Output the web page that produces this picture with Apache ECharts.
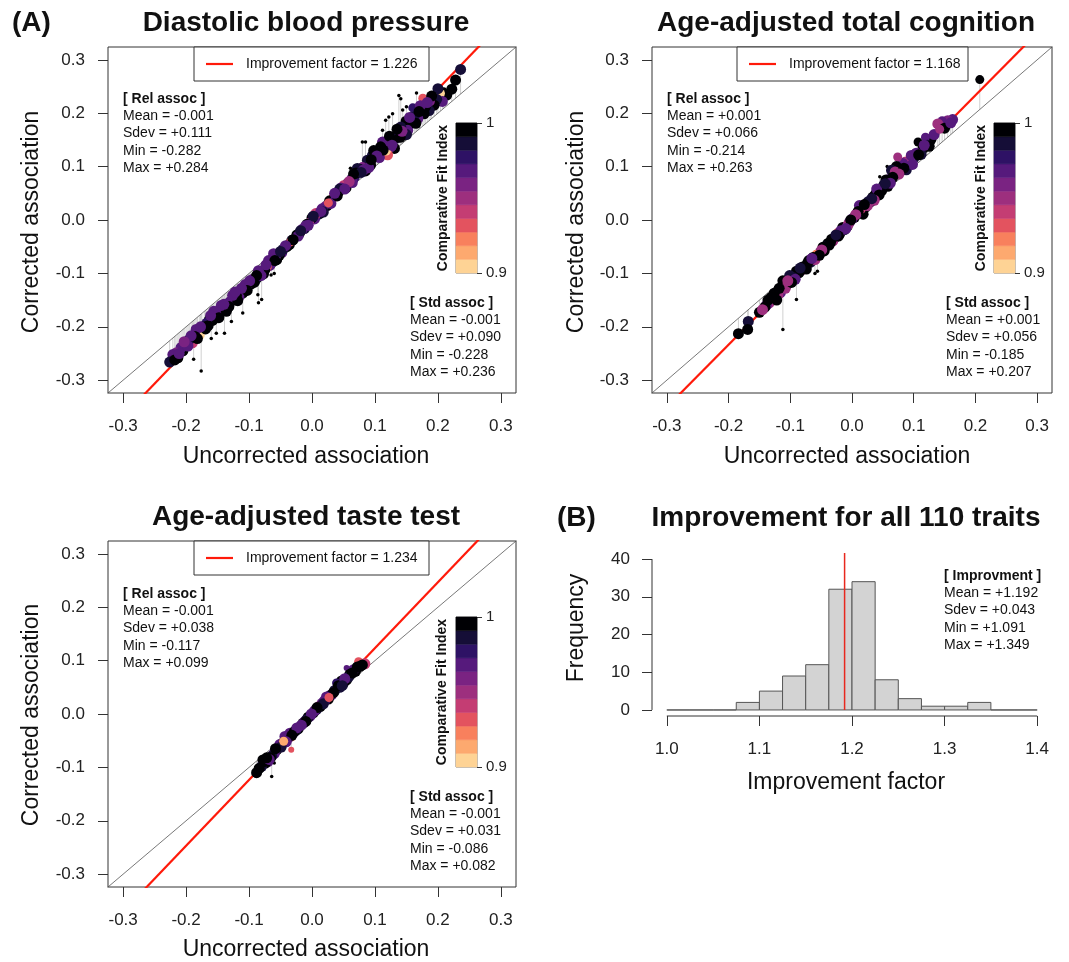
<!DOCTYPE html>
<html>
<head>
<meta charset="utf-8">
<title>Improvement factor</title>
<script src="https://cdn.jsdelivr.net/npm/echarts@6/dist/echarts.min.js"></script>
<style>
  html, body { margin: 0; padding: 0; background: #fff; }
  #chart { width: 1069px; height: 962px; }
</style>
</head>
<body>
<div id="chart"></div>
<script>
// --- data ---
const assocTicks = [-0.3, -0.2, -0.1, 0, 0.1, 0.2, 0.3];
const histXTicks = [1.0, 1.1, 1.2, 1.3, 1.4];
const histYTicks = [0, 10, 20, 30, 40];

const panelTitles = ['Diastolic blood pressure', 'Age-adjusted total cognition', 'Age-adjusted taste test'];
const improvementFactors = [1.226, 1.168, 1.234];
const relStats = [[-0.001, 0.111, -0.282, 0.284], [0.001, 0.066, -0.214, 0.263], [-0.001, 0.038, -0.117, 0.099]];
const stdStats = [[-0.001, 0.090, -0.228, 0.236], [0.001, 0.056, -0.185, 0.207], [-0.001, 0.031, -0.086, 0.082]];
const histStats = [1.192, 0.043, 1.091, 1.349];

// colour key, CFI 0.9 (bottom) -> 1 (top)
const cfiPalette = ['#FED395', '#FDA96F', '#F8805D', '#E3535F', '#C43D73', '#9D2F7E',
                    '#7A2382', '#561A7C', '#2E1265', '#150E37', '#000004'];

// [uncorrected, corrected, CFI, weight]
const dbpPoints = [
  [0.236, 0.282, 0.99, 3], [0.228, 0.262, 0.998, 3], [0.222, 0.245, 0.998, 3], [0.214, 0.234, 0.998, 3],
  [0.209, 0.240, 0.998, 2], [0.204, 0.237, 0.905, 2], [0.207, 0.222, 0.97, 3], [0.198, 0.226, 0.99, 3],
  [0.194, 0.215, 0.998, 3], [0.188, 0.222, 0.96, 2], [0.186, 0.205, 0.99, 3], [0.180, 0.212, 0.998, 3],
  [0.178, 0.199, 0.998, 3], [0.176, 0.228, 0.93, 2], [0.168, 0.190, 0.97, 3], [0.163, 0.196, 0.99, 3],
  [0.160, 0.210, 0.98, 2], [0.157, 0.181, 0.998, 3], [0.152, 0.168, 0.97, 3], [0.148, 0.186, 0.998, 2],
  [0.146, 0.159, 0.998, 3], [0.141, 0.174, 0.99, 3], [0.137, 0.163, 0.97, 2], [0.133, 0.153, 0.98, 3],
  [0.131, 0.134, 0.998, 3], [0.128, 0.149, 0.998, 3], [0.125, 0.137, 0.97, 3], [0.120, 0.122, 0.93, 3],
  [0.118, 0.129, 0.905, 2], [0.115, 0.141, 0.95, 2], [0.112, 0.146, 0.97, 3], [0.109, 0.137, 0.998, 3],
  [0.104, 0.128, 0.99, 2], [0.101, 0.118, 0.93, 2], [0.096, 0.121, 0.99, 3], [0.093, 0.103, 0.998, 3],
  [0.088, 0.112, 0.99, 3], [0.085, 0.092, 0.998, 3], [0.080, 0.100, 0.96, 2], [0.076, 0.095, 0.998, 3],
  [0.072, 0.0965, 0.99, 3], [0.067, 0.080, 0.98, 3], [0.062, 0.078, 0.97, 2], [0.057, 0.069, 0.99, 3],
  [0.054, 0.060, 0.998, 3], [0.050, 0.066, 0.94, 2], [0.046, 0.060, 0.97, 3], [0.042, 0.052, 0.998, 3],
  [0.038, 0.047, 0.99, 3], [0.034, 0.044, 0.93, 2], [0.032, 0.037, 0.92, 2], [0.028, 0.036, 0.998, 3],
  [0.024, 0.027, 0.998, 3], [0.020, 0.026, 0.96, 2], [0.016, 0.021, 0.97, 3], [0.012, 0.012, 0.998, 3],
  [0.008, 0.009, 0.99, 3], [0.004, 0.002, 0.97, 3], [0.000, 0.004, 0.998, 3], [-0.004, -0.004, 0.95, 2],
  [-0.008, -0.008, 0.998, 3], [-0.012, -0.016, 0.99, 3], [-0.016, -0.018, 0.97, 3], [-0.020, -0.025, 0.998, 3],
  [-0.024, -0.028, 0.998, 3], [-0.028, -0.035, 0.97, 2], [-0.032, -0.038, 0.99, 3], [-0.036, -0.046, 0.998, 3],
  [-0.040, -0.050, 0.998, 3], [-0.044, -0.052, 0.96, 2], [-0.048, -0.061, 0.97, 3], [-0.052, -0.066, 0.998, 3],
  [-0.056, -0.074, 0.998, 3], [-0.061, -0.063, 0.97, 3], [-0.064, -0.080, 0.99, 3], [-0.067, -0.085, 0.97, 3],
  [-0.071, -0.088, 0.93, 2], [-0.075, -0.093, 0.998, 3], [-0.079, -0.098, 0.98, 3], [-0.083, -0.100, 0.99, 3],
  [-0.087, -0.108, 0.998, 3], [-0.090, -0.113, 0.99, 3], [-0.094, -0.111, 0.97, 3], [-0.097, -0.120, 0.998, 3],
  [-0.101, -0.122, 0.96, 2], [-0.104, -0.127, 0.97, 3], [-0.108, -0.133, 0.998, 3], [-0.110, -0.137, 0.998, 3],
  [-0.114, -0.134, 0.98, 3], [-0.116, -0.144, 0.97, 3], [-0.120, -0.142, 0.998, 3], [-0.124, -0.150, 0.998, 3],
  [-0.127, -0.146, 0.95, 2], [-0.130, -0.153, 0.97, 3], [-0.134, -0.157, 0.97, 3], [-0.138, -0.162, 0.998, 3],
  [-0.142, -0.168, 0.998, 3], [-0.146, -0.167, 0.97, 3], [-0.150, -0.176, 0.97, 3], [-0.154, -0.180, 0.99, 3],
  [-0.158, -0.188, 0.998, 3], [-0.163, -0.187, 0.998, 3], [-0.167, -0.193, 0.98, 3], [-0.171, -0.199, 0.99, 3],
  [-0.175, -0.206, 0.97, 2], [-0.179, -0.215, 0.905, 3], [-0.184, -0.205, 0.97, 3], [-0.186, -0.218, 0.998, 3],
  [-0.190, -0.230, 0.94, 3], [-0.195, -0.224, 0.99, 3], [-0.200, -0.233, 0.97, 3], [-0.205, -0.245, 0.998, 3],
  [-0.208, -0.239, 0.97, 3], [-0.213, -0.258, 0.998, 3], [-0.216, -0.247, 0.96, 2], [-0.221, -0.252, 0.97, 3],
  [-0.226, -0.266, 0.99, 3],
  [0.200, 0.246, 0.99, 3], [0.190, 0.232, 0.998, 3], [0.172, 0.214, 0.97, 3], [0.165, 0.181, 0.998, 3],
  [0.150, 0.160, 0.99, 3], [0.140, 0.155, 0.998, 3], [0.123, 0.157, 0.998, 3], [0.107, 0.117, 0.97, 3],
  [0.098, 0.130, 0.998, 3], [0.090, 0.098, 0.97, 3], [0.070, 0.088, 0.998, 3], [0.064, 0.070, 0.97, 3],
  [0.044, 0.058, 0.99, 3], [0.030, 0.031, 0.97, 3], [0.018, 0.015, 0.99, 3], [0.006, 0.012, 0.94, 3],
  [-0.010, -0.011, 0.97, 3], [-0.022, -0.030, 0.97, 3], [-0.034, -0.041, 0.93, 2], [-0.046, -0.055, 0.99, 3],
  [-0.058, -0.068, 0.97, 3], [-0.069, -0.076, 0.97, 3], [-0.077, -0.101, 0.998, 3], [-0.085, -0.095, 0.97, 3],
  [-0.092, -0.117, 0.998, 3], [-0.106, -0.121, 0.97, 3], [-0.118, -0.151, 0.998, 3], [-0.126, -0.141, 0.97, 3],
  [-0.136, -0.171, 0.998, 3], [-0.144, -0.160, 0.97, 3], [-0.156, -0.171, 0.97, 3], [-0.165, -0.198, 0.998, 3],
  [-0.182, -0.222, 0.998, 3], [-0.197, -0.236, 0.97, 3], [-0.218, -0.262, 0.998, 3],
  [0.183, 0.220, 0.97, 3], [0.170, 0.203, 0.998, 3], [0.155, 0.192, 0.97, 3], [0.143, 0.166, 0.96, 3],
  [0.135, 0.170, 0.998, 3], [0.127, 0.140, 0.97, 3], [0.113, 0.131, 0.998, 3], [0.103, 0.120, 0.97, 3],
  [0.094, 0.113, 0.998, 3], [0.082, 0.094, 0.97, 3], [0.078, 0.089, 0.99, 3], [0.066, 0.086, 0.998, 3],
  [0.059, 0.072, 0.95, 3], [0.052, 0.058, 0.97, 3], [0.040, 0.045, 0.998, 3], [0.036, 0.050, 0.97, 3],
  [0.026, 0.032, 0.93, 2], [0.014, 0.016, 0.97, 3], [0.002, 0.007, 0.99, 3], [-0.006, -0.010, 0.97, 3],
  [-0.018, -0.020, 0.99, 3], [-0.030, -0.037, 0.998, 3], [-0.042, -0.048, 0.97, 3], [-0.050, -0.059, 0.99, 3],
  [-0.059, -0.076, 0.998, 3], [-0.073, -0.084, 0.97, 3], [-0.081, -0.104, 0.97, 3], [-0.088, -0.104, 0.998, 3],
  [-0.099, -0.114, 0.97, 3], [-0.103, -0.132, 0.998, 3], [-0.112, -0.128, 0.97, 3], [-0.122, -0.135, 0.97, 3],
  [-0.132, -0.162, 0.998, 3], [-0.140, -0.158, 0.97, 3], [-0.148, -0.183, 0.998, 3], [-0.161, -0.179, 0.97, 3],
  [-0.169, -0.204, 0.998, 3], [-0.177, -0.200, 0.97, 3], [-0.192, -0.217, 0.97, 3], [-0.203, -0.228, 0.96, 3],
  [-0.211, -0.250, 0.97, 3]
];
// small markers [uncorrected, corrected]
const dbpDots = [
  [-0.176, -0.283], [-0.188, -0.261], [-0.152, -0.212], [-0.160, -0.222], [-0.139, -0.212], [-0.128, -0.190],
  [-0.110, -0.174], [-0.085, -0.155], [-0.080, -0.149], [-0.086, -0.140], [-0.065, -0.103], [-0.060, -0.100],
  [0.061, 0.097], [0.085, 0.146], [0.080, 0.146], [0.112, 0.168], [0.117, 0.187], [0.122, 0.193],
  [0.128, 0.199], [0.138, 0.233], [0.141, 0.227], [0.144, 0.206], [0.150, 0.212], [0.166, 0.238]
];

const cogPoints = [
  [0.207, 0.263, 0.998, 2], [0.163, 0.188, 0.97, 3], [0.155, 0.186, 0.96, 3], [0.146, 0.186, 0.97, 2],
  [0.139, 0.180, 0.95, 3], [0.128, 0.151, 0.998, 3], [0.119, 0.155, 0.97, 2], [0.107, 0.146, 0.998, 2],
  [0.115, 0.134, 0.998, 3], [0.112, 0.123, 0.99, 3], [0.104, 0.125, 0.97, 3], [0.100, 0.116, 0.99, 3],
  [0.093, 0.113, 0.905, 3], [0.090, 0.104, 0.998, 3], [0.086, 0.110, 0.95, 2], [0.082, 0.106, 0.97, 3],
  [0.078, 0.095, 0.998, 3], [0.074, 0.118, 0.95, 2], [0.072, 0.100, 0.998, 3], [0.068, 0.087, 0.99, 3],
  [0.064, 0.093, 0.99, 3], [0.060, 0.076, 0.97, 3], [0.055, 0.075, 0.998, 3], [0.052, 0.066, 0.99, 3],
  [0.050, 0.062, 0.99, 3], [0.046, 0.058, 0.94, 2], [0.042, 0.052, 0.97, 3], [0.038, 0.048, 0.998, 3],
  [0.034, 0.043, 0.998, 3], [0.030, 0.034, 0.99, 3], [0.026, 0.034, 0.99, 3], [0.022, 0.024, 0.998, 3],
  [0.018, 0.011, 0.998, 3], [0.015, 0.020, 0.94, 2], [0.012, 0.027, 0.97, 3], [0.008, 0.012, 0.99, 3],
  [0.004, 0.005, 0.998, 3], [0.000, 0.002, 0.97, 3], [-0.004, -0.004, 0.97, 3], [-0.008, -0.012, 0.998, 3],
  [-0.012, -0.018, 0.99, 3], [-0.015, -0.014, 0.998, 3], [-0.020, -0.026, 0.998, 3], [-0.024, -0.024, 0.93, 2],
  [-0.028, -0.033, 0.99, 3], [-0.031, -0.039, 0.95, 3], [-0.035, -0.042, 0.998, 3], [-0.039, -0.044, 0.998, 3],
  [-0.043, -0.050, 0.99, 3], [-0.047, -0.051, 0.998, 3], [-0.051, -0.060, 0.97, 3], [-0.055, -0.065, 0.998, 3],
  [-0.058, -0.064, 0.92, 2], [-0.063, -0.070, 0.998, 3], [-0.067, -0.079, 0.99, 3], [-0.072, -0.081, 0.998, 3],
  [-0.076, -0.090, 0.97, 3], [-0.082, -0.094, 0.95, 3], [-0.086, -0.099, 0.998, 3], [-0.090, -0.096, 0.998, 3],
  [-0.095, -0.108, 0.99, 3], [-0.101, -0.104, 0.99, 3], [-0.101, -0.116, 0.99, 3], [-0.106, -0.122, 0.998, 3],
  [-0.112, -0.114, 0.998, 3], [-0.112, -0.126, 0.998, 3], [-0.116, -0.136, 0.97, 3], [-0.120, -0.140, 0.95, 3],
  [-0.126, -0.137, 0.998, 3], [-0.128, -0.148, 0.998, 3], [-0.134, -0.155, 0.95, 3], [-0.139, -0.160, 0.97, 3],
  [-0.141, -0.163, 0.998, 3], [-0.150, -0.173, 0.998, 3], [-0.168, -0.190, 0.99, 3], [-0.169, -0.205, 0.998, 3],
  [-0.184, -0.213, 0.998, 3],
  [0.150, 0.172, 0.998, 3], [0.133, 0.160, 0.97, 3], [0.122, 0.140, 0.99, 3], [0.096, 0.121, 0.97, 3],
  [0.088, 0.094, 0.99, 3], [0.070, 0.090, 0.95, 3], [0.058, 0.063, 0.998, 3], [0.048, 0.055, 0.998, 3],
  [0.040, 0.058, 0.97, 3], [0.025, 0.027, 0.95, 3], [0.010, 0.016, 0.998, 3], [-0.006, -0.008, 0.95, 3],
  [-0.018, -0.020, 0.97, 3], [-0.033, -0.036, 0.998, 3], [-0.045, -0.058, 0.998, 3], [-0.060, -0.074, 0.95, 3],
  [-0.070, -0.076, 0.998, 3], [-0.080, -0.088, 0.998, 3], [-0.092, -0.111, 0.97, 3], [-0.108, -0.128, 0.95, 3],
  [-0.122, -0.150, 0.998, 3], [-0.131, -0.145, 0.998, 3], [-0.145, -0.168, 0.95, 3],
  [0.160, 0.182, 0.97, 3], [0.142, 0.170, 0.95, 2], [0.125, 0.138, 0.998, 3], [0.117, 0.140, 0.97, 3],
  [0.108, 0.122, 0.998, 3], [0.098, 0.104, 0.97, 3], [0.084, 0.097, 0.998, 3], [0.076, 0.086, 0.95, 3],
  [0.066, 0.080, 0.998, 3], [0.062, 0.069, 0.97, 3], [0.054, 0.068, 0.99, 3], [0.044, 0.047, 0.998, 3],
  [0.036, 0.037, 0.95, 3], [0.032, 0.040, 0.99, 3], [0.020, 0.029, 0.998, 3], [0.006, 0.010, 0.95, 3],
  [-0.002, 0.000, 0.998, 3], [-0.010, -0.016, 0.97, 3], [-0.022, -0.030, 0.998, 3], [-0.026, -0.028, 0.99, 3],
  [-0.037, -0.047, 0.998, 3], [-0.049, -0.056, 0.95, 3], [-0.053, -0.066, 0.998, 3], [-0.065, -0.072, 0.97, 3],
  [-0.074, -0.092, 0.998, 3], [-0.084, -0.090, 0.99, 3], [-0.098, -0.117, 0.998, 3], [-0.104, -0.114, 0.95, 3],
  [-0.118, -0.128, 0.998, 3], [-0.136, -0.150, 0.998, 3]
];
const cogDots = [
  [-0.112, -0.205], [-0.090, -0.149], [-0.060, -0.100], [-0.056, -0.096], [0.045, 0.081], [0.057, 0.100]
];

const tastePoints = [
  [0.084, 0.094, 0.94, 3], [0.074, 0.098, 0.93, 2], [0.076, 0.089, 0.998, 3], [0.069, 0.080, 0.998, 3],
  [0.066, 0.083, 0.97, 3], [0.055, 0.086, 0.97, 1], [0.060, 0.074, 0.998, 3], [0.055, 0.064, 0.998, 3],
  [0.050, 0.058, 0.998, 3], [0.047, 0.062, 0.998, 3], [0.044, 0.050, 0.99, 3], [0.039, 0.058, 0.98, 2],
  [0.036, 0.044, 0.99, 3], [0.031, 0.036, 0.97, 3], [0.026, 0.028, 0.998, 3], [0.020, 0.025, 0.97, 3],
  [0.016, 0.020, 0.97, 3], [0.013, 0.014, 0.998, 3], [0.010, 0.015, 0.95, 2], [0.007, 0.008, 0.99, 3],
  [0.002, 0.002, 0.998, 3], [-0.003, -0.004, 0.97, 3], [-0.006, -0.006, 0.998, 3], [-0.009, -0.011, 0.99, 3],
  [-0.014, -0.017, 0.998, 3], [-0.019, -0.024, 0.94, 2], [-0.022, -0.028, 0.998, 3], [-0.025, -0.030, 0.99, 3],
  [-0.030, -0.036, 0.97, 3], [-0.033, -0.043, 0.92, 2], [-0.033, -0.067, 0.93, 1], [-0.035, -0.036, 0.97, 3],
  [-0.040, -0.048, 0.905, 2], [-0.043, -0.042, 0.97, 3], [-0.047, -0.055, 0.998, 3], [-0.051, -0.057, 0.97, 3],
  [-0.056, -0.067, 0.998, 3], [-0.060, -0.074, 0.97, 3], [-0.064, -0.079, 0.99, 3], [-0.070, -0.089, 0.97, 3],
  [-0.074, -0.092, 0.998, 3], [-0.078, -0.086, 0.998, 3], [-0.080, -0.098, 0.99, 3], [-0.088, -0.110, 0.998, 3],
  [0.072, 0.088, 0.998, 3], [0.058, 0.069, 0.99, 3], [0.042, 0.053, 0.998, 3], [0.028, 0.034, 0.99, 3],
  [0.004, 0.006, 0.97, 3], [-0.012, -0.015, 0.97, 3], [-0.028, -0.033, 0.998, 3], [-0.038, -0.045, 0.97, 3],
  [-0.054, -0.063, 0.97, 3], [-0.066, -0.082, 0.998, 3], [-0.076, -0.089, 0.998, 3],
  [0.080, 0.092, 0.998, 3], [0.064, 0.077, 0.998, 3], [0.052, 0.066, 0.97, 3], [0.048, 0.053, 0.99, 3],
  [0.034, 0.040, 0.998, 3], [0.023, 0.032, 0.97, 3], [0.018, 0.019, 0.99, 3], [0.008, 0.012, 0.998, 3],
  [-0.001, 0.000, 0.97, 3], [-0.010, -0.014, 0.998, 3], [-0.017, -0.021, 0.97, 3], [-0.024, -0.026, 0.97, 3],
  [-0.032, -0.040, 0.998, 3], [-0.041, -0.052, 0.97, 3], [-0.049, -0.062, 0.99, 3], [-0.058, -0.065, 0.998, 3],
  [-0.068, -0.085, 0.97, 3], [-0.072, -0.082, 0.998, 3], [-0.084, -0.102, 0.998, 3], [-0.045, -0.051, 0.91, 2],
  [0.027, 0.031, 0.93, 2]
];
const tasteDots = [[-0.064, -0.117], [-0.060, -0.092], [-0.046, -0.068]];

// histogram of improvement factors (bin edges and counts)
const histBinEdges = [1.000, 1.025, 1.050, 1.075, 1.100, 1.125, 1.150, 1.175, 1.200,
                      1.225, 1.250, 1.275, 1.300, 1.325, 1.350, 1.375, 1.400];
const histCounts = [0, 0, 0, 2, 5, 9, 12, 32, 34, 8, 3, 1, 1, 2, 0, 0];

// --- helpers ---
const FONT = "'Liberation Sans', Arial, Helvetica, sans-serif";
const sizeByWeight = [3.5, 6, 9, 11];
const assocMin = -0.324, assocMax = 0.324;   // R's 4% axis padding around +-0.3
const histXMin = 0.984, histXMax = 1.416, histYMin = -1.6, histYMax = 41.6;

function cfiColor(cfi) {
    const i = Math.max(0, Math.min(cfiPalette.length - 1, Math.floor((cfi - 0.9) / 0.1 * cfiPalette.length)));
    return cfiPalette[i];
}
function fmt(v) {
    return (v >= 0 ? '+' : '-') + Math.abs(v).toFixed(3);
}
function text(x, y, str, size, extra) {
    return Object.assign({
        type: 'text', x: x, y: y, z: 100,
        style: Object.assign({
            text: str, fontSize: size, fontFamily: FONT, fill: '#111',
            textAlign: 'center', textVerticalAlign: 'middle', align: 'center', verticalAlign: 'middle'
        }, extra && extra.style)
    }, extra && extra.el);
}
function statsBlock(x, y, heading, vals) {
    const lines = ['{h|' + heading + '}', 'Mean = ' + fmt(vals[0]), 'Sdev = ' + fmt(vals[1]),
                   'Min = ' + fmt(vals[2]), 'Max = ' + fmt(vals[3])];
    return {
        type: 'text', x: x, y: y, z: 100,
        style: {
            text: lines.join('\n'), fontSize: 14, fontFamily: FONT, fill: '#111', lineHeight: 17.4,
            textAlign: 'left', textVerticalAlign: 'top', align: 'left', verticalAlign: 'top',
            rich: { h: { fontSize: 14, fontFamily: FONT, fontWeight: 'bold', lineHeight: 17.4, fill: '#111' } }
        }
    };
}
function legendBox(x, y, w, label) {
    return {
        type: 'group', z: 100,
        children: [
            { type: 'rect', shape: { x: x, y: y, width: w, height: 34 }, style: { fill: '#fff', stroke: '#333', lineWidth: 1 } },
            { type: 'line', shape: { x1: x + 12, y1: y + 17, x2: x + 39, y2: y + 17 }, style: { stroke: '#FF1A0A', lineWidth: 2.2 } },
            { type: 'text', x: x + 52, y: y + 17, style: { text: label, fontSize: 14, fontFamily: FONT, fill: '#111',
              textAlign: 'left', textVerticalAlign: 'middle', align: 'left', verticalAlign: 'middle' } }
        ]
    };
}
function assocAxis(gridIndex, margin) {
    return {
        type: 'value', gridIndex: gridIndex, min: assocMin, max: assocMax,
        axisLine: { show: false, onZero: false },
        axisTick: { show: true, length: 10, customValues: assocTicks, lineStyle: { color: '#333', width: 1 } },
        axisLabel: { customValues: assocTicks, formatter: v => v.toFixed(1), fontSize: 17, fontFamily: FONT, color: '#222', margin: margin },
        splitLine: { show: false }
    };
}

// --- layout ---
const scatterGrids = [
    { left: 108, top: 47, width: 408, height: 346 },
    { left: 652, top: 47, width: 400, height: 346 },
    { left: 108, top: 541, width: 408, height: 346 }
];
const histGrid = { left: 652, top: 553, width: 400, height: 163 };
const barGrids = [
    { left: 456, top: 123, width: 21, height: 150 },
    { left: 994, top: 123, width: 21, height: 150 },
    { left: 456, top: 617, width: 21, height: 150 }
];
const pointSets = [dbpPoints, cogPoints, tastePoints];
const dotSets = [dbpDots, cogDots, tasteDots];

const grid = [], xAxis = [], yAxis = [], series = [];

scatterGrids.forEach((g, p) => {
    grid.push(Object.assign({ show: true, borderColor: '#333', borderWidth: 1, backgroundColor: 'transparent' }, g));
    xAxis.push(assocAxis(p, 25));
    yAxis.push(assocAxis(p, 23));
    const k = improvementFactors[p];
    const all = pointSets[p].map(d => [d[0], d[1]]).concat(dotSets[p]);
    series.push({
        type: 'custom', xAxisIndex: p, yAxisIndex: p, clip: true, z: 1, silent: true,
        data: all,
        renderItem: (params, api) => {
            const x = api.value(0), y = api.value(1);
            const a = api.coord([x, x]), b = api.coord([x, y]);
            return { type: 'line', shape: { x1: a[0], y1: a[1], x2: b[0], y2: b[1] }, style: { stroke: '#d0d0d0', lineWidth: 1 } };
        }
    });
    series.push({
        type: 'line', xAxisIndex: p, yAxisIndex: p, clip: true, z: 2, silent: true, symbol: 'none',
        data: [[-0.4, -0.4], [0.4, 0.4]], lineStyle: { color: '#555', width: 0.8 }
    });
    series.push({
        type: 'line', xAxisIndex: p, yAxisIndex: p, clip: true, z: 3, silent: true, symbol: 'none',
        data: [[-0.4, -0.4 * k], [0.4, 0.4 * k]], lineStyle: { color: '#FF1A0A', width: 2.2 }
    });
    series.push({
        type: 'scatter', xAxisIndex: p, yAxisIndex: p, clip: true, z: 4, silent: true,
        data: dotSets[p], symbolSize: sizeByWeight[0], itemStyle: { color: '#000', opacity: 1 }
    });
    series.push({
        type: 'scatter', xAxisIndex: p, yAxisIndex: p, clip: true, z: 5, silent: true,
        data: pointSets[p],
        symbolSize: v => sizeByWeight[v[3]],
        itemStyle: { color: params => cfiColor(params.value[2]), opacity: 1 }
    });
});

// histogram (grid index 3)
grid.push(histGrid);
xAxis.push({
    type: 'value', gridIndex: 3, min: histXMin, max: histXMax,
    axisLine: { show: false, onZero: false },
    axisTick: { show: true, length: 10, customValues: histXTicks, lineStyle: { color: '#333' } },
    axisLabel: { customValues: histXTicks, formatter: v => v.toFixed(1), fontSize: 17, fontFamily: FONT, color: '#222', margin: 25 },
    splitLine: { show: false }
});
yAxis.push({
    type: 'value', gridIndex: 3, min: histYMin, max: histYMax,
    axisLine: { show: false, onZero: false },
    axisTick: { show: true, length: 10, customValues: histYTicks, lineStyle: { color: '#333' } },
    axisLabel: { customValues: histYTicks, formatter: v => String(v), fontSize: 17, fontFamily: FONT, color: '#222', margin: 22 },
    splitLine: { show: false }
});
series.push({
    type: 'custom', xAxisIndex: 3, yAxisIndex: 3, silent: true, z: 2,
    data: histCounts.map((c, i) => [histBinEdges[i], histBinEdges[i + 1], c]),
    encode: { x: [0, 1], y: 2 },
    renderItem: (params, api) => {
        const lo = api.coord([api.value(0), api.value(2)]);
        const hi = api.coord([api.value(1), 0]);
        return { type: 'rect', shape: { x: lo[0], y: lo[1], width: hi[0] - lo[0], height: hi[1] - lo[1] },
                 style: { fill: '#D3D3D3', stroke: '#555', lineWidth: 1 } };
    }
});
series.push({
    type: 'line', xAxisIndex: 3, yAxisIndex: 3, silent: true, z: 3, symbol: 'none', clip: false,
    data: [[histStats[0], 0], [histStats[0], histYMax]], lineStyle: { color: '#E8281E', width: 1.5 }
});
// R style axis lines that only span the tick range
series.push({
    type: 'custom', xAxisIndex: 3, yAxisIndex: 3, silent: true, z: 3, clip: false,
    data: [[histXTicks[0], 0]],
    renderItem: (params, api) => {
        const xa = api.coord([histXTicks[0], histYMin]), xb = api.coord([histXTicks[histXTicks.length - 1], histYMin]);
        const ya = api.coord([histXMin, histYTicks[0]]), yb = api.coord([histXMin, histYTicks[histYTicks.length - 1]]);
        return { type: 'group', children: [
            { type: 'line', shape: { x1: xa[0], y1: xa[1], x2: xb[0], y2: xb[1] }, style: { stroke: '#333', lineWidth: 1 } },
            { type: 'line', shape: { x1: ya[0], y1: ya[1], x2: yb[0], y2: yb[1] }, style: { stroke: '#333', lineWidth: 1 } }
        ] };
    }
});

// colour keys (grid index 4..6)
barGrids.forEach((g, j) => {
    const gi = 4 + j;
    grid.push(Object.assign({ show: true, borderColor: '#777', borderWidth: 1 }, g));
    xAxis.push({ type: 'value', gridIndex: gi, min: 0, max: 1, show: false });
    yAxis.push({
        type: 'value', gridIndex: gi, min: 0.9, max: 1.0, position: 'right',
        axisLine: { show: false, onZero: false },
        axisTick: { show: true, length: 5, customValues: [0.9, 1.0], lineStyle: { color: '#333' } },
        axisLabel: { customValues: [0.9, 1.0], formatter: v => (v >= 1 ? '1' : '0.9'), fontSize: 15, fontFamily: FONT, color: '#222', margin: 9 },
        splitLine: { show: false }
    });
    series.push({
        type: 'custom', xAxisIndex: gi, yAxisIndex: gi, silent: true, z: 2,
        data: cfiPalette.map((c, i) => [i, 0.9]),
        renderItem: (params, api) => {
            const i = api.value(0);
            const step = 0.1 / cfiPalette.length;
            const a = api.coord([0, 0.9 + i * step]), b = api.coord([1, 0.9 + (i + 1) * step]);
            return { type: 'rect', shape: { x: a[0], y: b[1], width: b[0] - a[0], height: a[1] - b[1] },
                     style: { fill: cfiPalette[i], stroke: cfiPalette[i], lineWidth: 0.5 } };
        }
    });
});

// --- text ---
const rot = { el: { rotation: Math.PI / 2 } };
const bold28 = { style: { fontWeight: 'bold' } };
const graphic = [
    text(12, 23, '(A)', 28, { style: { fontWeight: 'bold', textAlign: 'left', align: 'left' } }),
    text(306, 23, panelTitles[0], 28, bold28),
    text(846, 23, panelTitles[1], 28, bold28),
    text(306, 517, panelTitles[2], 28, bold28),
    text(557, 518, '(B)', 28, { style: { fontWeight: 'bold', textAlign: 'left', align: 'left' } }),
    text(846, 518, 'Improvement for all 110 traits', 28, bold28),

    text(32, 222, 'Corrected association', 23, rot),
    text(577, 222, 'Corrected association', 23, rot),
    text(32, 715, 'Corrected association', 23, rot),
    text(306, 457, 'Uncorrected association', 23),
    text(847, 457, 'Uncorrected association', 23),
    text(306, 950, 'Uncorrected association', 23),
    text(577, 628, 'Frequency', 23, rot),
    text(846, 783, 'Improvement factor', 23),

    text(443, 198, 'Comparative Fit Index', 14, { style: { fontWeight: 'bold' }, el: { rotation: Math.PI / 2 } }),
    text(981, 198, 'Comparative Fit Index', 14, { style: { fontWeight: 'bold' }, el: { rotation: Math.PI / 2 } }),
    text(442, 692, 'Comparative Fit Index', 14, { style: { fontWeight: 'bold' }, el: { rotation: Math.PI / 2 } }),

    statsBlock(123, 90, '[ Rel assoc ]', relStats[0]),
    statsBlock(667, 90, '[ Rel assoc ]', relStats[1]),
    statsBlock(123, 585, '[ Rel assoc ]', relStats[2]),
    statsBlock(410, 294, '[ Std assoc ]', stdStats[0]),
    statsBlock(946, 294, '[ Std assoc ]', stdStats[1]),
    statsBlock(410, 788, '[ Std assoc ]', stdStats[2]),
    statsBlock(944, 567, '[ Improvment ]', histStats),

    legendBox(194, 47, 235, 'Improvement factor = ' + improvementFactors[0].toFixed(3)),
    legendBox(737, 47, 231, 'Improvement factor = ' + improvementFactors[1].toFixed(3)),
    legendBox(194, 541, 235, 'Improvement factor = ' + improvementFactors[2].toFixed(3))
];

const chart = echarts.init(document.getElementById('chart'));
chart.setOption({
    animation: false,
    backgroundColor: '#fff',
    grid: grid,
    xAxis: xAxis,
    yAxis: yAxis,
    series: series,
    graphic: graphic
});
</script>
</body>
</html>
